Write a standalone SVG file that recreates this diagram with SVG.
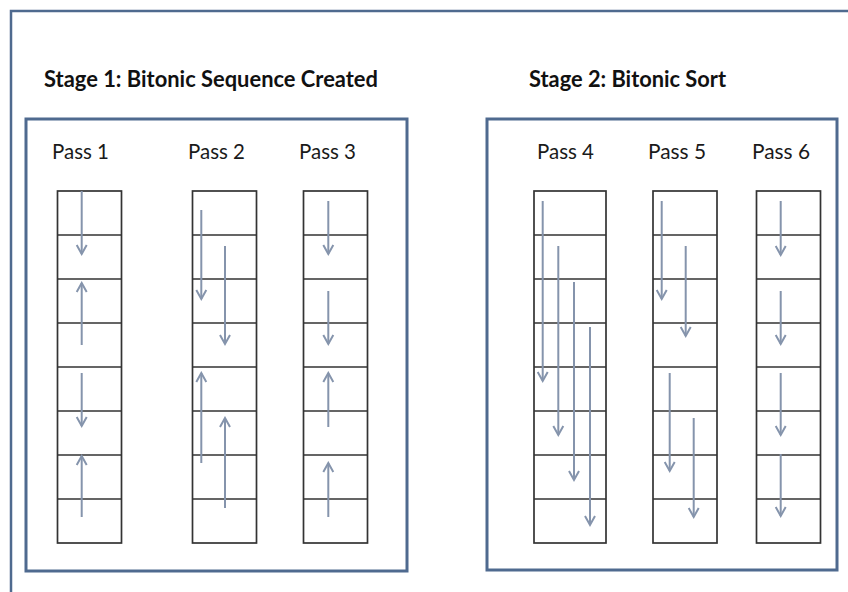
<svg xmlns="http://www.w3.org/2000/svg" width="848" height="592" viewBox="0 0 848 592">
<style>
.frame{fill:none;stroke:#4F6A8F;stroke-width:2.5}
.stage{fill:none;stroke:#4F6A8F;stroke-width:3}
.cell{fill:#fff;stroke:#333;stroke-width:1.7}
.title{font-family:Lato,"Open Sans","Liberation Sans",sans-serif;font-weight:bold;font-size:22px;fill:#111}
.pass{font-family:Lato,"Open Sans","Liberation Sans",sans-serif;font-size:22px;fill:#1a1a1a}
.arr{stroke:#8594AC;stroke-width:2;fill:none;marker-end:url(#ah)}
</style>
<defs>
<marker id="ah" markerUnits="userSpaceOnUse" markerWidth="14" markerHeight="14" viewBox="-11 -7 13 14" refX="0" refY="0" orient="auto">
<path d="M-9,-5 L0,0 L-9,5" fill="none" stroke="#8594AC" stroke-width="2"/>
</marker>
<g id="col64">
<rect class="cell" x="0" y="0" width="64" height="352"/>
<path class="cell" d="M0,44H64M0,88H64M0,132H64M0,176H64M0,220H64M0,264H64M0,308H64"/>
</g>
</defs>
<rect width="848" height="592" fill="#fff"/>
<path class="frame" d="M11,592V11H848"/>

<g id="stage1">
<text class="title" x="44" y="87" textLength="334" lengthAdjust="spacingAndGlyphs">Stage 1: Bitonic Sequence Created</text>
<rect class="stage" x="26" y="119" width="381" height="452"/>
</g>
<g id="stage2">
<text class="title" x="529" y="87" textLength="197" lengthAdjust="spacingAndGlyphs">Stage 2: Bitonic Sort</text>
<rect class="stage" x="487" y="119" width="350" height="451"/>
</g>

<g id="pass1">
<text class="pass" x="52" y="159" textLength="57" lengthAdjust="spacingAndGlyphs">Pass 1</text>
<use href="#col64" x="57.5" y="191"/>
</g>
<g id="pass2">
<text class="pass" x="188" y="159" textLength="57" lengthAdjust="spacingAndGlyphs">Pass 2</text>
<use href="#col64" x="192.5" y="191"/>
</g>
<g id="pass3">
<text class="pass" x="299" y="159" textLength="57" lengthAdjust="spacingAndGlyphs">Pass 3</text>
<use href="#col64" x="303.5" y="191"/>
</g>
<g id="pass4">
<text class="pass" x="537" y="159" textLength="57" lengthAdjust="spacingAndGlyphs">Pass 4</text>
<rect class="cell" x="534" y="191" width="72" height="352"/>
<path class="cell" d="M534,235h72M534,279h72M534,323h72M534,367h72M534,411h72M534,455h72M534,499h72"/>
</g>
<g id="pass5">
<text class="pass" x="648" y="159" textLength="58" lengthAdjust="spacingAndGlyphs">Pass 5</text>
<use href="#col64" x="653" y="191"/>
</g>
<g id="pass6">
<text class="pass" x="752" y="159" textLength="58" lengthAdjust="spacingAndGlyphs">Pass 6</text>
<use href="#col64" x="756.5" y="191"/>
</g>

<g id="connectors">
<path class="arr" d="M81.7,191V254"/>
<path class="arr" d="M81.7,345V283"/>
<path class="arr" d="M81.7,373V426"/>
<path class="arr" d="M81.7,517V456"/>

<path class="arr" d="M201.3,210V299"/>
<path class="arr" d="M225,246V344"/>
<path class="arr" d="M201.3,463V373"/>
<path class="arr" d="M225,508V418"/>

<path class="arr" d="M328.3,201V254"/>
<path class="arr" d="M328.3,291V344"/>
<path class="arr" d="M328.3,427V373"/>
<path class="arr" d="M328.3,517V463"/>

<path class="arr" d="M542.7,201V381"/>
<path class="arr" d="M558.3,246V435"/>
<path class="arr" d="M574,282V480"/>
<path class="arr" d="M590,327V525"/>

<path class="arr" d="M661.7,201V299"/>
<path class="arr" d="M685.7,246V336"/>
<path class="arr" d="M669.7,373V471"/>
<path class="arr" d="M693.7,418V517"/>

<path class="arr" d="M780.7,201V255"/>
<path class="arr" d="M780.7,291V344"/>
<path class="arr" d="M780.7,373V435"/>
<path class="arr" d="M780.7,454V516"/>
</g>
</svg>
